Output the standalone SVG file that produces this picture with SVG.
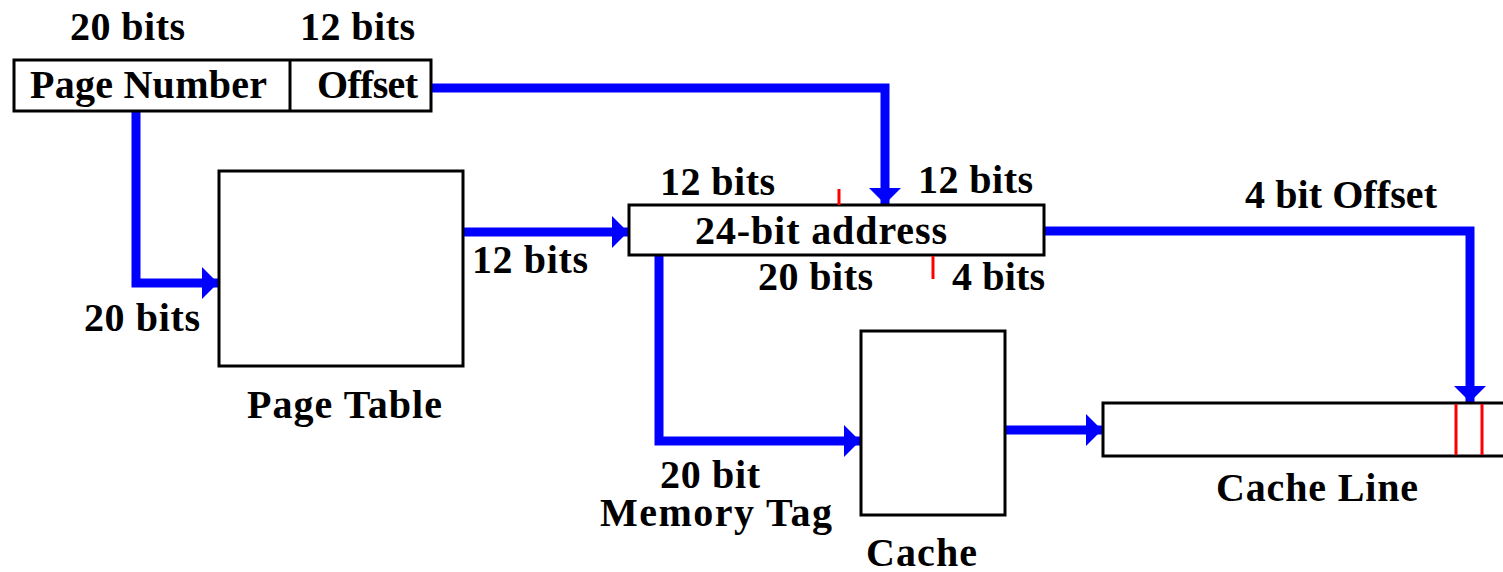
<svg xmlns="http://www.w3.org/2000/svg" width="1503" height="572" viewBox="0 0 1503 572">
<style>
.box{fill:#fff;stroke:#000;stroke-width:3}
.t{font-family:"Liberation Serif","Times New Roman",serif;font-weight:bold;font-size:40px;fill:#000}
.c{fill:none;stroke:#0000ff;stroke-width:9;stroke-linejoin:miter}
.red{stroke:#ff0000;stroke-width:3}
</style>
<defs>
<marker id="ah" markerUnits="userSpaceOnUse" markerWidth="16" markerHeight="32" refX="16" refY="16" orient="auto">
<path d="M0,0 L16,16 L0,32 Z" fill="#0000ff"/>
</marker>
</defs>
<rect width="1503" height="572" fill="#fff"/>
<g id="connectors">
<polyline class="c" points="431,88 885,88 885,204" marker-end="url(#ah)"/>
<polyline class="c" points="136,111 136,283 218,283" marker-end="url(#ah)"/>
<polyline class="c" points="463,232 628,232" marker-end="url(#ah)"/>
<polyline class="c" points="659,255 659,441 860,441" marker-end="url(#ah)"/>
<polyline class="c" points="1044,231 1470,231 1470,402" marker-end="url(#ah)"/>
<polyline class="c" points="1005,430 1102,430" marker-end="url(#ah)"/>
</g>
<g id="virtual-address">
<rect class="box" x="14" y="60" width="417" height="51"/>
<line x1="290" y1="60" x2="290" y2="111" stroke="#000" stroke-width="3"/>
<text class="t" x="30" y="98" textLength="237" lengthAdjust="spacing">Page Number</text>
<text class="t" x="317" y="98" textLength="101" lengthAdjust="spacing">Offset</text>
<text class="t" x="70" y="40" textLength="115" lengthAdjust="spacing">20 bits</text>
<text class="t" x="300" y="40" textLength="115" lengthAdjust="spacing">12 bits</text>
</g>
<g id="page-table">
<rect class="box" x="219" y="171" width="244" height="195"/>
<text class="t" x="247" y="418" textLength="195" lengthAdjust="spacing">Page Table</text>
</g>
<g id="address-24">
<rect class="box" x="629" y="205" width="415" height="50"/>
<text class="t" x="695" y="244" textLength="252" lengthAdjust="spacing">24-bit address</text>
<line class="red" x1="839" y1="189" x2="839" y2="205"/>
<line class="red" x1="933" y1="256" x2="933" y2="279"/>
</g>
<g id="cache">
<rect class="box" x="861" y="331" width="144" height="184"/>
<text class="t" x="866" y="566" textLength="111" lengthAdjust="spacing">Cache</text>
</g>
<g id="cache-line">
<rect class="box" x="1103" y="403" width="410" height="53"/>
<line class="red" x1="1456" y1="404" x2="1456" y2="455" stroke-width="4"/>
<line class="red" x1="1482" y1="404" x2="1482" y2="455" stroke-width="4"/>
<text class="t" x="1216" y="501" textLength="202" lengthAdjust="spacing">Cache Line</text>
</g>
<g id="labels">
<text class="t" x="660" y="195" textLength="115" lengthAdjust="spacing">12 bits</text>
<text class="t" x="918" y="193" textLength="115" lengthAdjust="spacing">12 bits</text>
<text class="t" x="758" y="290" textLength="115" lengthAdjust="spacing">20 bits</text>
<text class="t" x="952" y="290" textLength="93" lengthAdjust="spacing">4 bits</text>
<text class="t" x="1245" y="208" textLength="192" lengthAdjust="spacing">4 bit Offset</text>
<text class="t" x="472" y="273" textLength="116" lengthAdjust="spacing">12 bits</text>
<text class="t" x="84" y="331" textLength="116" lengthAdjust="spacing">20 bits</text>
<text class="t" x="660" y="488" textLength="100" lengthAdjust="spacing">20 bit</text>
<text class="t" x="600" y="526" textLength="232" lengthAdjust="spacing">Memory Tag</text>
</g>
</svg>
